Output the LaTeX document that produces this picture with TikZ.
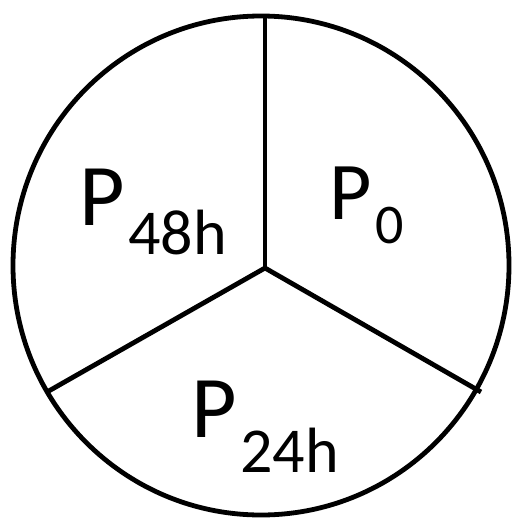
\documentclass[tikz,border=0pt]{standalone}
\usepackage{fontspec}
\setmainfont{Carlito}
\begin{document}
\begin{tikzpicture}[x=1pt,y=-1pt,
  edge/.style={line width=4.8pt},
  big/.style={inner sep=0pt,anchor=base west,font=\fontsize{88}{88}\selectfont},
  small/.style={inner sep=0pt,anchor=base west,font=\fontsize{64}{64}\selectfont}]
\useasboundingbox (0,0) rectangle (511,519);
\coordinate (hub) at (265,268);
\coordinate (top) at (265,15);
\coordinate (lft) at (47,392);
\coordinate (rgt) at (481,392);
\draw[edge] (261,265.5) ellipse [x radius=248, y radius=249.5];
\draw[edge] (hub) -- (top);
\draw[edge] (hub) -- (lft);
\draw[edge] (hub) -- (rgt);
\node[big] (p48) at (79,225) {P};
\node[small] (s48) at (128,254) {48h};
\node[big,font=\fontsize{82}{82}\selectfont] (p0) at (329,219) {P};
\node[small,font=\fontsize{56}{56}\selectfont] (s0) at (375,243) {0};
\node[big] (p24) at (191,437) {P};
\node[small] (s24) at (240,472) {24h};
\end{tikzpicture}
\end{document}
